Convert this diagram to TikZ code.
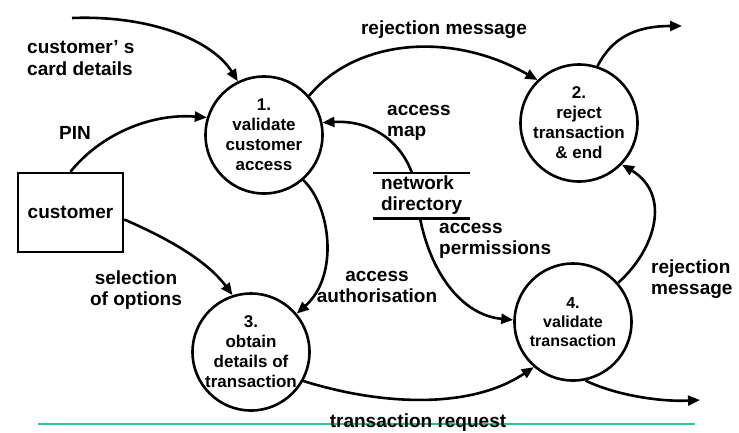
\documentclass[tikz,border=0pt]{standalone}
\usepackage{fontspec}
\setmainfont{Liberation Sans}
\usetikzlibrary{arrows.meta}
\definecolor{rulegreen}{RGB}{40,195,150}
\begin{document}
\begin{tikzpicture}[x=1pt,y=1pt,
  every node/.style={font=\bfseries},
  proc/.style={circle,draw,line width=2.6pt,minimum size=117pt,inner sep=0pt,align=center,
    font=\fontsize{17}{20}\selectfont\bfseries},
  ext/.style={rectangle,draw,line width=2.6pt,minimum width=105pt,minimum height=79pt,
    font=\fontsize{19}{22}\selectfont\bfseries},
  store/.style={rectangle,minimum width=97pt,minimum height=45pt,inner xsep=8pt,inner ysep=0pt,
    text width=81pt,align=left,font=\fontsize{19}{21}\selectfont\bfseries},
  lbl/.style={font=\fontsize{19}{21.5}\selectfont\bfseries,inner sep=0pt},
  flow/.style={line width=2.6pt,-{Triangle[length=12pt,width=10pt]}},
  storeline/.style={line width=2.6pt}]
\useasboundingbox (0,0) rectangle (739,-432);

% green rule
\coordinate (g1) at (38,-424);
\coordinate (g2) at (695,-424);
\draw[rulegreen,line width=1.3pt] (g1) -- (g2);

% nodes
\node[proc] (c1) at (264,-135) {1.\\validate\\customer\\access};
\node[proc] (c2) at (579,-123) {2.\\reject\\transaction\\\& end};
\node[proc] (c3) at (251,-352) {3.\\obtain\\details of\\transaction};
\node[proc,font=\fontsize{16}{19}\selectfont\bfseries] (c4) at (573,-322) {4.\\validate\\transaction};
\node[ext] (box) at (70.5,-212.5) {customer};
\node[store] (ds) at (421.5,-195.5) {network\\directory};
\draw[storeline] (ds.north west) -- (ds.north east);
\draw[storeline] (ds.south west) -- (ds.south east);

% free ends and store points
\coordinate (s1) at (72,-18);
\coordinate (o2) at (682,-26);
\coordinate (o4) at (700,-400);
\coordinate (dsA) at (412,-173);
\coordinate (dsB) at (420,-218);

% flows
\draw[flow] (s1) .. controls (150,-15) and (212,-40) .. (c1.116);
\draw[flow] (box.north) .. controls (100,-135) and (150,-113) .. (c1.163);
\draw[flow] (c1.41) .. controls (355,-40) and (450,-30) .. (c2.134);
\draw[flow] (c2.72) .. controls (612,-38) and (635,-26) .. (o2);
\draw[flow] (dsA) .. controls (400,-140) and (370,-120) .. (c1.12);
\draw[flow] (c1.-49) .. controls (330,-205) and (340,-275) .. (c3.40);
\draw[flow] ([yshift=-7pt]box.east) .. controls (160,-235) and (205,-258) .. (c3.108);
\draw[flow] (dsB) .. controls (430,-270) and (460,-315) .. (c4.178);
\draw[flow] (c4.41) .. controls (655,-250) and (672,-195) .. (c2.-44);
\draw[flow] (c3.-29) .. controls (380,-405) and (470,-410) .. (c4.229);
\draw[flow] (c4.-78) .. controls (615,-395) and (660,-402) .. (o4);

% labels
\node[lbl,anchor=west,align=left] (lcard) at (27,-58) {customer’ s\\card details};
\node[lbl] (lpin) at (75,-133) {PIN};
\node[lbl,anchor=base] (lrej1) at (444,-34) {rejection message};
\node[lbl,anchor=west,align=left] (lmap) at (387,-123) {access\\map};
\node[lbl,anchor=west,align=left] (lperm) at (439,-241) {access\\permissions};
\node[lbl,align=center] (lauth) at (377,-287) {access\\authorisation};
\node[lbl,align=center] (lsel) at (136,-290) {selection\\of options};
\node[lbl,anchor=west,align=left] (lrej2) at (651,-279) {rejection\\message};
\node[lbl,anchor=base] (ltr) at (418,-427) {transaction request};
\end{tikzpicture}
\end{document}
